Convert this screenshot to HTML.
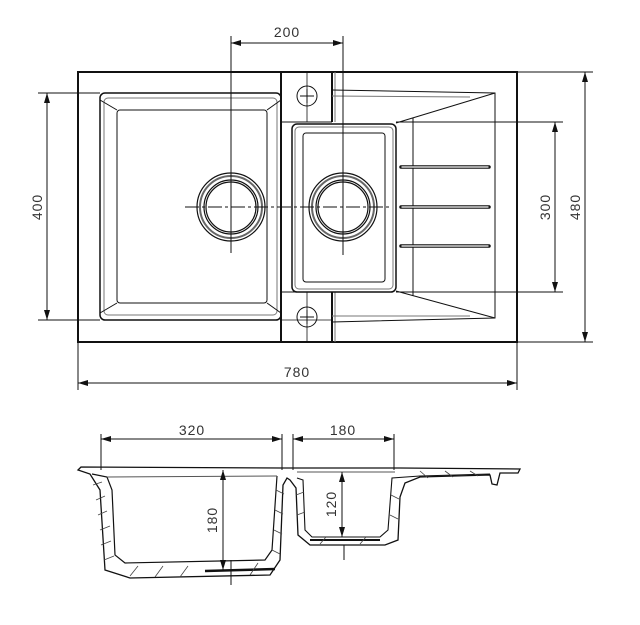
<!DOCTYPE html>
<html><head><style>
html,body{margin:0;padding:0;background:#fff;width:640px;height:625px;overflow:hidden}
svg text{font-family:"Liberation Sans",sans-serif;font-size:14px;fill:#333;letter-spacing:1px}
</style></head><body>
<svg width="640" height="625" viewBox="0 0 640 625" xmlns="http://www.w3.org/2000/svg">
<defs>
<marker id="a" viewBox="0 0 10 6" refX="10" refY="3" markerWidth="10" markerHeight="6" orient="auto-start-reverse" markerUnits="userSpaceOnUse"><path d="M0,0L10,3L0,6z" fill="#111"/></marker>
</defs>
<g fill="none" stroke="#111" stroke-width="1">
<rect x="78" y="72" width="439" height="270" stroke-width="2"/>
<rect x="100" y="93" width="181" height="227" rx="5" stroke-width="1.5"/>
<rect x="104" y="98" width="173" height="217" rx="4" stroke="#777"/>
<rect x="117" y="110" width="150" height="193" rx="3"/>
<line x1="100" y1="100" x2="117" y2="110"/><line x1="281" y1="100" x2="267" y2="110"/>
<line x1="100" y1="313" x2="117" y2="303"/><line x1="281" y1="313" x2="267" y2="303"/>
<line x1="281" y1="72" x2="281" y2="342" stroke-width="2"/>
<line x1="332" y1="72" x2="332" y2="122" stroke-width="2"/>
<line x1="332" y1="292" x2="332" y2="342" stroke-width="2"/>
<line x1="281" y1="122" x2="332" y2="122"/><line x1="281" y1="292" x2="332" y2="292"/>
<line x1="335" y1="72" x2="335" y2="122" stroke="#777"/><line x1="335" y1="292" x2="335" y2="342" stroke="#777"/>
<circle cx="307" cy="96" r="10"/><circle cx="307" cy="317" r="10"/>
<line x1="300" y1="96" x2="314" y2="96"/><line x1="307" y1="89" x2="307" y2="103"/>
<line x1="300" y1="317" x2="314" y2="317"/><line x1="307" y1="310" x2="307" y2="324"/>
<line x1="307" y1="72" x2="307" y2="122" stroke-width="0.8"/><line x1="307" y1="292" x2="307" y2="342" stroke-width="0.8"/>
<line x1="281" y1="320" x2="332" y2="320" stroke-width="0.8"/>
<rect x="292" y="124" width="104" height="168" rx="5" stroke-width="1.5"/>
<rect x="295" y="127" width="98" height="162" rx="4" stroke="#777"/>
<rect x="303" y="133" width="82" height="149" rx="3"/>
<polyline points="332,90 495,93 495,318 332,322"/>
<line x1="332" y1="96" x2="470" y2="97" stroke="#777"/>
<line x1="332" y1="316" x2="470" y2="316" stroke="#777"/>
<line x1="396" y1="123" x2="495" y2="93"/><line x1="396" y1="291" x2="495" y2="318"/>
<line x1="413" y1="118" x2="413" y2="296"/>
<g stroke-width="3.5" stroke-linecap="round"><line x1="401" y1="167" x2="489" y2="167"/><line x1="401" y1="207" x2="489" y2="207"/><line x1="401" y1="246" x2="489" y2="246"/></g>
<g stroke="#fff" stroke-width="1.3" stroke-linecap="round"><line x1="402" y1="167" x2="488" y2="167"/><line x1="402" y1="207" x2="488" y2="207"/><line x1="402" y1="246" x2="488" y2="246"/></g>
<g stroke-width="1.2">
<circle cx="231" cy="207" r="34"/><circle cx="231" cy="207" r="31" stroke="#666" stroke-width="2"/><circle cx="231" cy="207" r="27"/><circle cx="231" cy="207" r="25"/>
<circle cx="343" cy="207" r="34"/><circle cx="343" cy="207" r="31" stroke="#666" stroke-width="2"/><circle cx="343" cy="207" r="27"/><circle cx="343" cy="207" r="25"/>
</g>
<line x1="185" y1="207" x2="392" y2="207" stroke-dasharray="14,3,3,3"/>
<line x1="231" y1="36" x2="231" y2="253"/>
<line x1="343" y1="36" x2="343" y2="255"/>
<line x1="231" y1="43" x2="343" y2="43" marker-start="url(#a)" marker-end="url(#a)"/>
<line x1="38" y1="93" x2="100" y2="93"/><line x1="38" y1="320" x2="100" y2="320"/>
<line x1="47" y1="93" x2="47" y2="320" marker-start="url(#a)" marker-end="url(#a)"/>
<line x1="396" y1="122" x2="563" y2="122"/><line x1="396" y1="292" x2="563" y2="292"/>
<line x1="555" y1="122" x2="555" y2="292" marker-start="url(#a)" marker-end="url(#a)"/>
<line x1="517" y1="72" x2="593" y2="72"/><line x1="517" y1="342" x2="593" y2="342"/>
<line x1="585" y1="72" x2="585" y2="342" marker-start="url(#a)" marker-end="url(#a)"/>
<line x1="78" y1="342" x2="78" y2="390"/><line x1="517" y1="342" x2="517" y2="390"/>
<line x1="78" y1="383" x2="517" y2="383" marker-start="url(#a)" marker-end="url(#a)"/>
<line x1="101" y1="434" x2="101" y2="470"/><line x1="282" y1="434" x2="282" y2="470"/>
<line x1="101" y1="439" x2="282" y2="439" marker-start="url(#a)" marker-end="url(#a)"/>
<line x1="293" y1="434" x2="293" y2="470"/><line x1="394" y1="434" x2="394" y2="470"/>
<line x1="293" y1="439" x2="394" y2="439" marker-start="url(#a)" marker-end="url(#a)"/>
<path d="M78,470 L81,467 L282,468 L400,468 L520,469 L518,473 L500,473 L497,485 L492,484 L490,475 L420,477 L405,483 L400,497 L398,540 L385,545 L310,545 L298,535 L296,488 L290,480 L287,478 L283,485 L280,560 L270,575 L130,578 L105,570 L100,490 L90,474 Z" stroke-width="1.3"/>
<path d="M92,474 L107,477 L112,490 L115,555 L125,563 L265,560 L272,550 L277,476" stroke-width="1.2"/>
<path d="M107,477 L277,476" stroke="#555"/>
<path d="M297,478 L303,480 L305,530 L312,537 L380,537 L388,530 L392,478 L420,476 L490,474" stroke-width="1.1"/>
<line x1="297" y1="472" x2="395" y2="472" stroke="#555"/>
<line x1="205" y1="571" x2="275" y2="569" stroke-width="2.5"/>
<line x1="310" y1="540" x2="380" y2="540" stroke-width="2"/>
<g stroke="#444" stroke-width="0.8">
<line x1="93" y1="485" x2="102" y2="482"/><line x1="96" y1="500" x2="105" y2="496"/><line x1="98" y1="515" x2="107" y2="511"/><line x1="100" y1="530" x2="110" y2="526"/><line x1="101" y1="545" x2="111" y2="541"/><line x1="104" y1="560" x2="114" y2="556"/>
<line x1="130" y1="576" x2="138" y2="566"/><line x1="155" y1="577" x2="163" y2="566"/><line x1="180" y1="577" x2="188" y2="566"/><line x1="250" y1="575" x2="258" y2="563"/>
<line x1="276" y1="490" x2="284" y2="494"/><line x1="275" y1="510" x2="283" y2="514"/><line x1="274" y1="530" x2="282" y2="534"/><line x1="272" y1="550" x2="280" y2="554"/>
<line x1="296" y1="495" x2="304" y2="492"/><line x1="297" y1="515" x2="305" y2="512"/><line x1="320" y1="544" x2="326" y2="537"/><line x1="360" y1="544" x2="366" y2="537"/>
<line x1="391" y1="495" x2="399" y2="499"/><line x1="390" y1="515" x2="398" y2="519"/>
<line x1="420" y1="471" x2="428" y2="478"/><line x1="445" y1="471" x2="453" y2="477"/><line x1="470" y1="471" x2="478" y2="476"/>
</g>
<line x1="223" y1="470" x2="223" y2="570" marker-start="url(#a)" marker-end="url(#a)"/>
<line x1="231" y1="560" x2="231" y2="585"/>
<line x1="342" y1="472" x2="342" y2="537" marker-start="url(#a)" marker-end="url(#a)"/>
<line x1="344" y1="545" x2="344" y2="560"/>
</g>
<g>
<text x="287" y="37" text-anchor="middle">200</text>
<text x="297" y="377" text-anchor="middle">780</text>
<text x="192" y="435" text-anchor="middle">320</text>
<text x="343" y="435" text-anchor="middle">180</text>
<text transform="translate(42,207) rotate(-90)" text-anchor="middle">400</text>
<text transform="translate(550,207) rotate(-90)" text-anchor="middle">300</text>
<text transform="translate(580,207) rotate(-90)" text-anchor="middle">480</text>
<text transform="translate(217,520) rotate(-90)" text-anchor="middle">180</text>
<text transform="translate(336,504) rotate(-90)" text-anchor="middle">120</text>
</g>
</svg>
</body></html>
